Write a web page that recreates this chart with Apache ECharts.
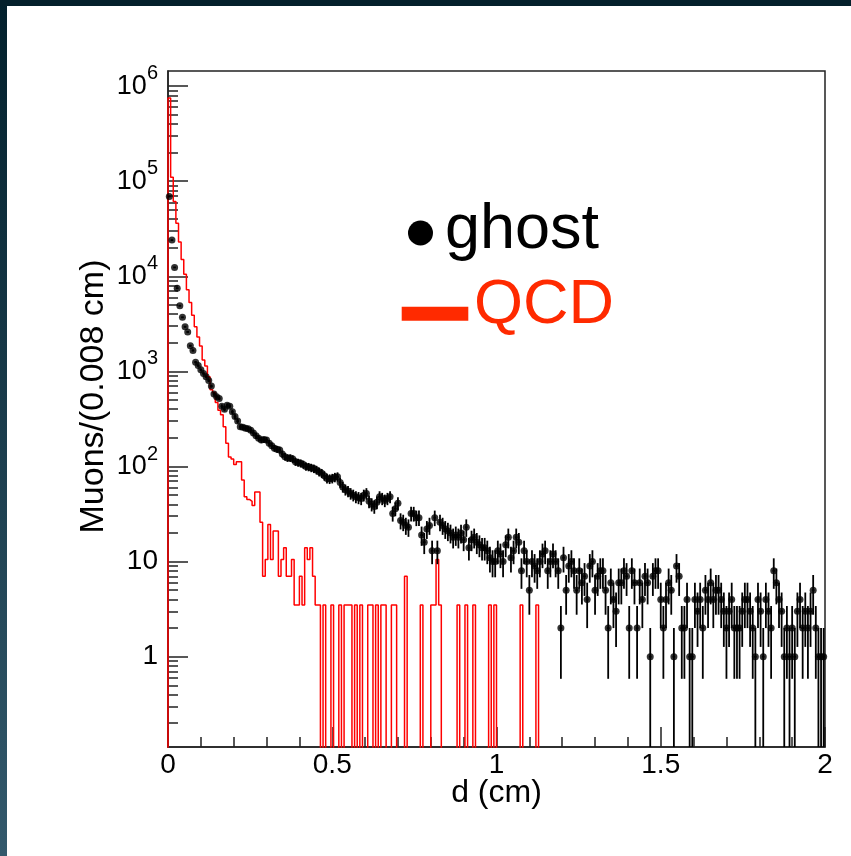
<!DOCTYPE html>
<html><head><meta charset="utf-8">
<script src="https://cdn.jsdelivr.net/npm/echarts@6/dist/echarts.min.js"></script>
<style>html,body{margin:0;padding:0;background:#fff}#c{width:851px;height:856px}</style>
</head><body><div id="c"></div>
<script>
// ---- data: 250 bins of 0.008 cm from 0 to 2 cm ----
const binWidth = 0.008;
const xMin = 0, xMax = 2;
const ghostCounts = [
69000,24000,12400,7500,4900,3700,2950,2600,1860,1660,
1250,1150,1040,950,880,800,700,580,540,520,
430,400,440,430,376,335,300,262,258,253,
250,241,225,210,198,190,192,190,176,165,
156,152,149,135,127,123,123,120,112,110,
108,105,100,99,97,95,92,88,85,80,
75,74,75,77,78,68,61,57,55,52,
50,48,47,46,50,52,43,40,38,42,
48,46,44,46,48,32,36,41,27,26,
24,23,32,32,29,29,19,16,22,24,
13,29,13,26,24,22,21,20,18,19,
18,20,17,23,14,17,18,16,15,14,
14,13,11,10,10,13,12,10,15,18,
11,13,18,16,8,13,10,5,10,9,
8,10,12,13,8,10,12,10,8,2,
11,5,9,10,8,5,8,6,7,4,
9,10,5,7,8,8,5,2,6,4,
3,6,6,8,7,2,8,6,2,6,
4,7,6,1,7,8,8,4,2,4,
6,5,1,9,7,2,2,4,1,1,
4,3,4,2,5,4,6,4,5,5,
4,3,2,3,4,2,2,2,3,4,
4,3,2,1,4,3,1,4,3,2,
8,6,4,3,1,2,1,2,1,3,
4,2,3,2,3,5,2,1,1,1
];
const qcdCounts = [
750000,110000,61000,36000,23000,15000,10500,7200,5300,3900,
2950,2300,1850,1320,1140,880,640,600,470,390,
350,262,176,126,120,105,112,112,72,48,
45,43,39,54,54,26,7,10.5,24.5,10.5,
21,21,7,10.5,14,7,7,10.5,3.5,3.5,
7,3.5,14,10.5,14,7,3.5,3.5,0,3.5,
0,0,3.5,0,0,3.5,0,3.5,3.5,3.5,
0,3.5,0,3.5,0,0,3.5,3.5,0,3.5,
0,3.5,3.5,0,0,3.5,3.5,0,0,0,
7,0,0,0,0,0,3.5,0,0,0,
3.5,3.5,10.5,3.5,0,0,0,0,0,0,
3.5,0,0,3.5,0,0,3.5,0,0,0,
0,0,3.5,0,3.5,0,0,0,0,0,
0,0,0,0,3.5,0,0,0,0,0,
3.5,0,0,0,0,0,0,0,0,0,
0,0,0,0,0,0,0,0,0,0,
0,0,0,0,0,0,0,0,0,0,
0,0,0,0,0,0,0,0,0,0,
0,0,0,0,0,0,0,0,0,0,
0,0,0,0,0,0,0,0,0,0,
0,0,0,0,0,0,0,0,0,0,
0,0,0,0,0,0,0,0,0,0,
0,0,0,0,0,0,0,0,0,0,
0,0,0,0,0,0,0,0,0,0,
0,0,0,0,0,0,0,0,0,0
];
const yMajorTicks = [1, 10, 100, 1000, 10000, 100000, 1000000];
const yTickLabels = ['1', '10', '10^2', '10^3', '10^4', '10^5', '10^6'];
const yMinorTicks = [0.2,0.3,0.4,0.5,0.6,0.7,0.8,0.9,
  2,3,4,5,6,7,8,9, 20,30,40,50,60,70,80,90,
  200,300,400,500,600,700,800,900, 2000,3000,4000,5000,6000,7000,8000,9000,
  20000,30000,40000,50000,60000,70000,80000,90000,
  200000,300000,400000,500000,600000,700000,800000,900000];
const yMin = 0.1124, yMax = 1.44e6;
const seriesNames = ['ghost', 'QCD'];

// ---- build series data ----
const ghostPoints = ghostCounts.map((v, i) => [(i + 0.5) * binWidth, v]);
const floorVal = yMin / 100; // empty bins drop below the frame (clipped)
const qcdStep = [[xMin, floorVal]];
qcdCounts.forEach((v, i) => qcdStep.push([i * binWidth, v > 0 ? v : floorVal]));
qcdStep.push([xMax, qcdCounts[qcdCounts.length - 1] > 0 ? qcdCounts[qcdCounts.length - 1] : floorVal]);

const FONT = 'Liberation Sans, Arial, Helvetica, sans-serif';
const AX = '#222';

const chart = echarts.init(document.getElementById('c'), null, {renderer: 'canvas'});
chart.setOption({
  animation: false,
  backgroundColor: '#ffffff',
  grid: {left: 168, top: 71, width: 657, height: 676, show: true, borderColor: AX, borderWidth: 1.5, backgroundColor: 'transparent'},
  xAxis: {
    type: 'value', min: xMin, max: xMax, interval: 0.5,
    axisLine: {show: true, onZero: false, lineStyle: {color: AX, width: 1.5}},
    axisTick: {show: true, inside: true, length: 20, lineStyle: {color: AX, width: 1.5}},
    minorTick: {show: true, splitNumber: 5, length: 10, lineStyle: {color: AX, width: 1.5}},
    splitLine: {show: false},
    axisLabel: {color: '#000', fontSize: 28, fontFamily: FONT, margin: 4,
      formatter: v => String(v)},
    name: 'd (cm)', nameLocation: 'middle', nameGap: 30, nameMoveOverlap: false,
    nameTextStyle: {color: '#000', fontSize: 32, fontFamily: FONT, verticalAlign: 'top'}
  },
  yAxis: [{
    type: 'log', logBase: 10, min: yMin, max: yMax,
    axisLine: {show: true, lineStyle: {color: AX, width: 1.5}},
    axisTick: {show: true, inside: true, length: 20, customValues: yMajorTicks, lineStyle: {color: AX, width: 1.5}},
    splitLine: {show: false},
    axisLabel: {
      customValues: yMajorTicks, margin: 10, color: '#000',
      formatter: function (v) {
        let idx = yMajorTicks.findIndex(t => Math.abs(Math.log10(t) - Math.log10(v)) < 1e-6);
        const lab = idx >= 0 ? yTickLabels[idx] : '';
        if (lab.indexOf('^') > 0) {
          const parts = lab.split('^');
          return '{b|' + parts[0] + '}{s|' + parts[1] + '}';
        }
        return '{p|' + lab + '}';
      },
      rich: {
        b: {fontSize: 27, fontFamily: FONT, color: '#000', lineHeight: 45, verticalAlign: 'middle'},
        s: {fontSize: 20, fontFamily: FONT, color: '#000', lineHeight: 20, verticalAlign: 'top'},
        p: {fontSize: 28, fontFamily: FONT, color: '#000', lineHeight: 45, verticalAlign: 'middle'}
      }
    },
    name: 'Muons/(0.008 cm)', nameLocation: 'middle', nameGap: 57, nameMoveOverlap: false,
    nameTextStyle: {color: '#000', fontSize: 34, fontFamily: FONT, padding: [0, 0, 0, 25]}
  }, {
    type: 'log', logBase: 10, min: yMin, max: yMax, position: 'left',
    axisLine: {show: false},
    axisTick: {show: true, inside: true, length: 10, customValues: yMinorTicks, lineStyle: {color: AX, width: 1.5}},
    axisLabel: {show: false},
    splitLine: {show: false}
  }],
  series: [{
    name: seriesNames[1], type: 'line', data: qcdStep, step: 'end', yAxisIndex: 0,
    symbol: 'none', clip: true, lineStyle: {color: '#ff0000', width: 1.5}, z: 3
  }, {
    name: seriesNames[0] + ' errors', type: 'custom', yAxisIndex: 0, clip: true, z: 4,
    data: ghostPoints,
    renderItem: function (params, api) {
      const x = api.value(0), v = api.value(1);
      const e = Math.sqrt(v);
      const lo = v - e > 0 ? v - e : floorVal;
      const hi = v + e;
      const pTop = api.coord([x, hi]);
      const pBot = api.coord([x, lo]);
      const pL = api.coord([x - binWidth / 2, v]);
      const pR = api.coord([x + binWidth / 2, v]);
      return {type: 'group', children: [
        {type: 'line', shape: {x1: pTop[0], y1: pTop[1], x2: pBot[0], y2: pBot[1]}, style: {stroke: '#000', lineWidth: 1.8}},
        {type: 'line', shape: {x1: pL[0], y1: pL[1], x2: pR[0], y2: pR[1]}, style: {stroke: '#000', lineWidth: 1.8}}
      ]};
    }
  }, {
    name: seriesNames[0], type: 'scatter', data: ghostPoints, yAxisIndex: 0,
    symbol: 'circle', symbolSize: 7, itemStyle: {color: '#000'}, z: 5
  }],
  graphic: [
    {type: 'rect', left: 0, top: 0, shape: {width: 7, height: 856}, silent: true,
      style: {fill: new echarts.graphic.LinearGradient(0, 0, 0, 1, [{offset: 0, color: '#02202c'}, {offset: 1, color: '#33596c'}])}},
    {type: 'rect', left: 0, top: 0, shape: {width: 851, height: 6}, silent: true,
      style: {fill: '#04202b'}},
    {type: 'circle', shape: {cx: 420.5, cy: 233, r: 12.5}, style: {fill: '#000'}},
    {type: 'text', x: 445, y: 231, style: {text: seriesNames[0], fill: '#000', font: '63px ' + FONT, verticalAlign: 'middle'}},
    {type: 'rect', shape: {x: 401.7, y: 306.7, width: 66.6, height: 14}, style: {fill: '#ff2a00'}},
    {type: 'text', x: 474, y: 306, style: {text: seriesNames[1], fill: '#ff2a00', font: '63px ' + FONT, verticalAlign: 'middle'}}
  ]
});
</script>
</body></html>
